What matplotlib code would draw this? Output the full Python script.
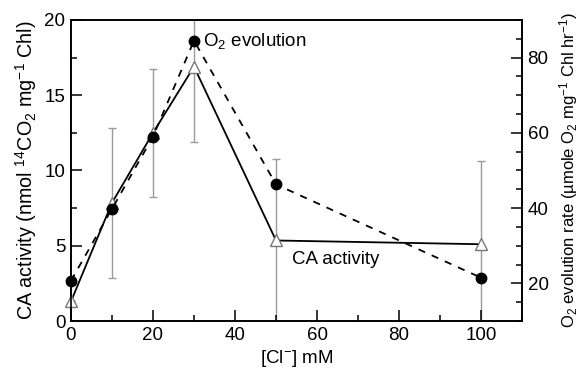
import matplotlib
matplotlib.use("Agg")
import matplotlib.pyplot as plt
from matplotlib.ticker import MultipleLocator

plt.rcParams["font.family"] = ["Liberation Sans", "DejaVu Sans"]
plt.rcParams["mathtext.fontset"] = "custom"
plt.rcParams["mathtext.rm"] = "Liberation Sans"
plt.rcParams["mathtext.it"] = "Liberation Sans:italic"

# Cl- concentration (mM)
chloride_mm = [0, 10, 20, 30, 50, 100]
# CA activity (nmol 14CO2 mg-1 Chl) and its error
ca_activity = [1.3, 7.85, 12.5, 16.9, 5.35, 5.1]
ca_error = [0.0, 5.0, 4.25, 5.0, 5.4, 5.5]
# O2 evolution rate (umole O2 mg-1 Chl hr-1)
o2_rate = [20.7, 39.8, 59.0, 84.5, 46.3, 21.5]

FS = 13.5


def main():
    fig = plt.figure(figsize=(5.79, 3.73), dpi=100)
    ax = fig.add_axes([0.1226, 0.1394, 0.779, 0.807])
    ax2 = ax.twinx()

    # CA activity: solid line, open triangles, grey error bars
    ax.errorbar(chloride_mm, ca_activity, yerr=ca_error, fmt="none",
                ecolor="#9a9a9a", elinewidth=1.0, capsize=3, capthick=1.0,
                zorder=1)
    ax.plot(chloride_mm, ca_activity, color="black", lw=1.3, zorder=2)
    ax.plot(chloride_mm, ca_activity, ls="none", marker="^", ms=8.5,
            mfc="white", mec="#777777", mew=1.0, zorder=3, clip_on=False)

    # O2 evolution: dashed line, filled circles (right axis)
    ax2.plot(chloride_mm, o2_rate, color="black", lw=1.3, ls=(0, (4, 4)),
             marker="o", ms=7.5, mfc="black", mec="black", clip_on=False)

    ax.set_xlim(0, 110)
    ax.set_ylim(0, 20)
    ax2.set_ylim(10, 90)

    ax.xaxis.set_major_locator(MultipleLocator(20))
    ax.xaxis.set_minor_locator(MultipleLocator(10))
    ax.yaxis.set_major_locator(MultipleLocator(5))
    ax.yaxis.set_minor_locator(MultipleLocator(2.5))
    ax2.yaxis.set_major_locator(MultipleLocator(20))
    ax2.yaxis.set_minor_locator(MultipleLocator(5))

    for a in (ax, ax2):
        a.tick_params(which="major", direction="in", length=8, width=1.1,
                      labelsize=FS, pad=4)
        a.tick_params(which="minor", direction="in", length=4, width=1.1)
        for sp in a.spines.values():
            sp.set_linewidth(1.2)
    ax.tick_params(axis="y", which="both", right=False)
    ax.tick_params(axis="x", which="both", top=False)

    ax.text(32.2, 18.6, r"O$_2$ evolution", fontsize=FS, va="center")
    ax.text(54, 4.1, "CA activity", fontsize=FS, va="center")

    ax.set_xlabel(r"[Cl$^{-}$] mM", fontsize=FS, labelpad=3)
    ax.set_ylabel(r"CA activity (nmol $^{14}$CO$_2$ mg$^{-1}$ Chl)",
                  fontsize=14.2, labelpad=4)
    ax2.set_ylabel("O$_2$ evolution rate (\u00b5mole O$_2$ mg$^{-1}$ Chl hr$^{-1}$)",
                   fontsize=12, labelpad=6)

    fig.savefig("out.png", dpi=100)
    plt.close(fig)


if __name__ == "__main__":
    main()
